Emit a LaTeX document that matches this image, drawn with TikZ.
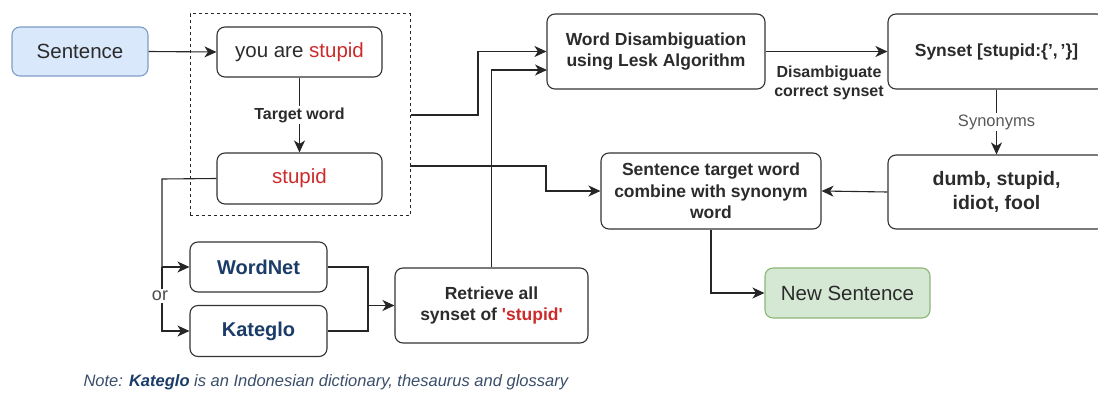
\documentclass[tikz,border=0pt]{standalone}
\usepackage{fontspec}
\setmainfont{Liberation Sans}
\usetikzlibrary{arrows.meta,calc}
\definecolor{txt}{HTML}{2B2B2B}
\definecolor{redw}{HTML}{CC2B2B}
\definecolor{bluew}{HTML}{1C3C68}
\definecolor{notec}{HTML}{3A4E6A}
\definecolor{bluefill}{HTML}{DAE8FC}
\definecolor{blueline}{HTML}{7E9CC8}
\definecolor{greenfill}{HTML}{D5E8D4}
\definecolor{greenline}{HTML}{8DB577}
\tikzset{
  box/.style={draw=black!80, line width=1.1pt, rounded corners=8pt, align=center, inner sep=0pt, text=txt},
  bt/.style={font=\bfseries\fontsize{17.5}{21.5}\selectfont},
  rt/.style={font=\fontsize{20.5}{24}\selectfont},
  arr/.style={draw=black!85, line width=1.1pt, -{Stealth[length=12pt,width=11pt,inset=3.5pt]}},
  ln/.style={draw=black!85, line width=1.1pt},
  lbl/.style={fill=white, inner sep=2pt, text=txt, align=center}
}
\begin{document}
\begin{tikzpicture}[x=1pt,y=-1pt]
\useasboundingbox (0,0) rectangle (1098,398);
\clip (0,0) rectangle (1098,398);
% nodes
\node[box, rt, fill=bluefill, draw=blueline, minimum width=136pt, minimum height=49pt] (sent) at (80,51.5) {Sentence};
\node[draw=black!85, line width=1pt, dashed, minimum width=220pt, minimum height=202pt, inner sep=0pt] (grp) at (300,115) {};
\node[box, rt, minimum width=165pt, minimum height=50pt] (you) at (299.5,52) {you are \textcolor{redw}{stupid}};
\node[box, rt, minimum width=165pt, minimum height=51pt] (stup) at (299.5,178.5) {\textcolor{redw}{stupid}};
\node[box, font=\bfseries\fontsize{20}{24}\selectfont, text=bluew, minimum width=137pt, minimum height=50pt] (wn) at (258.5,267) {WordNet};
\node[box, font=\bfseries\fontsize{20}{24}\selectfont, text=bluew, minimum width=137pt, minimum height=51pt] (kg) at (258.5,331) {Kateglo};
\node[box, bt, minimum width=193pt, minimum height=75pt] (ret) at (491.5,305.5) {Retrieve all\\synset of \textcolor{redw}{\textquotesingle stupid\textquotesingle}};
\node[box, bt, minimum width=218pt, minimum height=75pt] (wd) at (656,51.5) {Word Disambiguation\\using Lesk Algorithm};
\node[box, bt, minimum width=217pt, minimum height=75pt] (syn) at (996.5,51.5) {Synset [stupid:\{',\,'\}]};
\node[box, font=\bfseries\fontsize{19.5}{24}\selectfont, minimum width=217pt, minimum height=74pt] (dumb) at (996.5,192) {dumb, stupid,\\idiot, fool};
\node[box, bt, minimum width=220pt, minimum height=76pt] (st) at (711,191) {Sentence target word\\combine with synonym\\word};
\node[box, rt, fill=greenfill, draw=greenline, minimum width=165pt, minimum height=50pt] (ns) at (847.5,293) {New Sentence};
% coordinates
\coordinate (j1) at (162,179);
\coordinate (j2) at (162,267);
\coordinate (m) at (368,305.5);
\coordinate (g1) at (478,115);
\coordinate (g2a) at (410,166);
\coordinate (g2b) at (546,166);
\coordinate (r1) at (491.5,70);
\coordinate (wdlow) at (547,70);
% connectors
\draw[arr] (sent.east) -- (you.west);
\draw[arr] (you.south) -- node[lbl, font=\bfseries\fontsize{16}{18}\selectfont] {Target word} (stup.north);
\draw[ln] (stup.west) -- (j1) -- (j2);
\draw[arr] (j2) -- (wn.west);
\draw[arr] (j2) |- (kg.west);
\node[lbl, text=black!70, font=\fontsize{18}{20}\selectfont] (or) at (160,296) {or};
\draw[ln] (wn.east) -| (m);
\draw[ln] (kg.east) -| (m);
\draw[arr] (m) -- (ret.west);
\draw[arr] (ret.north) -- (r1) -- (wdlow);
\draw[arr] (grp.east) -- (g1) |- (wd.west);
\draw[arr] (g2a) -- (g2b) |- (st.west);
\draw[arr] (wd.east) -- (syn.west);
\node[text=txt, align=center, font=\bfseries\fontsize{16}{18.5}\selectfont] (dis) at (829,83) {Disambiguate\\correct synset};
\draw[arr] (syn.south) -- node[lbl, text=black!65, font=\fontsize{16.5}{18}\selectfont] {Synonyms} (dumb.north);
\draw[arr] (dumb.west) -- (st.east);
\draw[arr] (st.south) |- (ns.west);
\node[anchor=west, text=notec, font=\itshape\fontsize{16.5}{18}\selectfont] (note) at (80,382) {Note: \textbf{\textcolor{bluew}{Kateglo}} is an Indonesian dictionary, thesaurus and glossary};
\end{tikzpicture}
\end{document}
